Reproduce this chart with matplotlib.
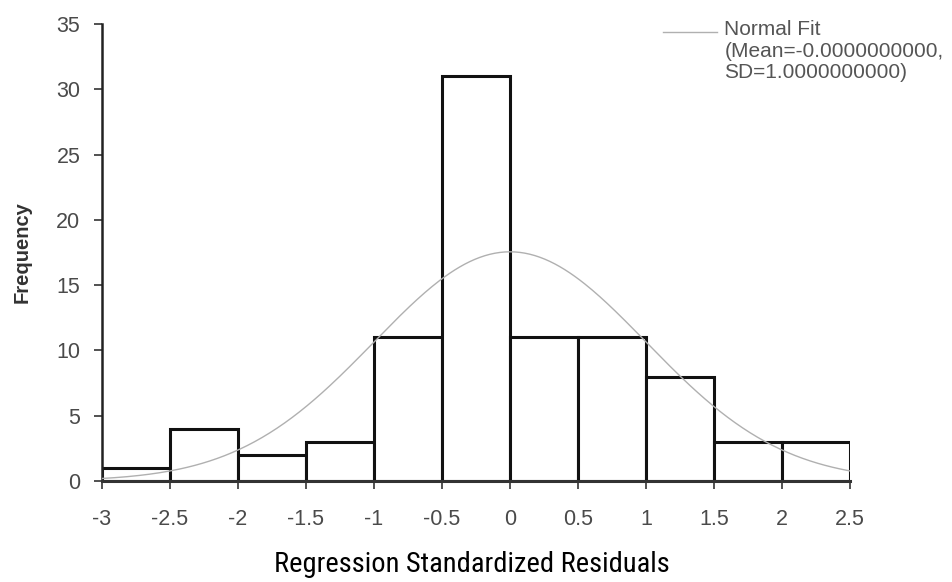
import numpy as np
import matplotlib
matplotlib.use("Agg")
import matplotlib.pyplot as plt

# Data
bin_edges = [-3.0, -2.5, -2.0, -1.5, -1.0, -0.5, 0.0, 0.5, 1.0, 1.5, 2.0, 2.5]
frequencies = [1, 4, 2, 3, 11, 31, 11, 11, 8, 3, 3]
fit_mean = 0.0
fit_sd = 1.0
xticks = [-3, -2.5, -2, -1.5, -1, -0.5, 0, 0.5, 1, 1.5, 2, 2.5]
xtick_labels = ["-3", "-2.5", "-2", "-1.5", "-1", "-0.5", "0", "0.5", "1", "1.5", "2", "2.5"]
yticks = [0, 5, 10, 15, 20, 25, 30, 35]

plt.rcParams["font.family"] = ["Liberation Sans", "DejaVu Sans"]

fig = plt.figure(figsize=(9.53, 5.82), dpi=100)
ax = fig.add_axes([0.107, 0.1735, 0.785, 0.7853])

lefts = bin_edges[:-1]
widths = np.diff(bin_edges)
ax.bar(lefts, frequencies, width=widths, align="edge", facecolor="white",
       edgecolor="#111111", linewidth=2.2, zorder=2)

n_total = sum(frequencies)
bw = widths[0]
xs = np.linspace(bin_edges[0], bin_edges[-1], 300)
ys = n_total * bw * np.exp(-0.5 * ((xs - fit_mean) / fit_sd) ** 2) / (fit_sd * np.sqrt(2 * np.pi))
ax.plot(xs, ys, color="#b0b0b0", linewidth=1.0, zorder=3)

ax.set_xlim(bin_edges[0], bin_edges[-1])
ax.set_ylim(0, 35)
ax.set_xticks(xticks)
ax.set_xticklabels(xtick_labels)
ax.set_yticks(yticks)

for s in ["top", "right"]:
    ax.spines[s].set_visible(False)
ax.spines["left"].set_linewidth(1.8)
ax.spines["left"].set_color("#222222")
ax.spines["bottom"].set_linewidth(2.2)
ax.spines["bottom"].set_color("#333333")
ax.spines["bottom"].set_zorder(4)

ax.tick_params(axis="both", which="major", direction="out", length=5.5, width=1.2,
               colors="#333333", labelcolor="#4a4a4a", labelsize=15.5)
ax.tick_params(axis="x", pad=14.5)
ax.tick_params(axis="y", pad=10)

ax.set_ylabel("Frequency", fontsize=14.5, fontweight="bold", color="#333333", labelpad=17.5)

fig.text(0.495, 0.017, "Regression Standardized Residuals", ha="center", va="baseline",
         fontsize=20.5, family=["Roboto Condensed", "DejaVu Sans"], color="black")

ax.plot([0.696, 0.752], [0.945, 0.945], transform=fig.transFigure, color="#b0b0b0",
        linewidth=1.0, clip_on=False)
fig.text(0.760, 0.965, "Normal Fit\n(Mean=-0.0000000000,\nSD=1.0000000000)",
         ha="left", va="top", fontsize=15, color="#555555", linespacing=1.15)

fig.savefig("out.png", dpi=100)
